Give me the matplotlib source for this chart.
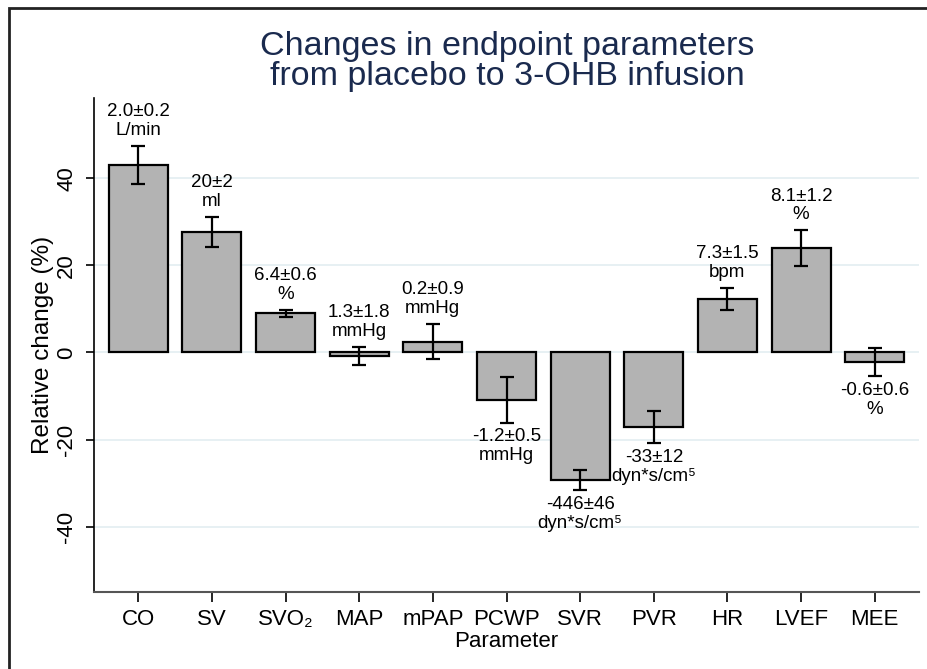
import numpy as np
import matplotlib
matplotlib.use('Agg')
import matplotlib.pyplot as plt
from matplotlib.patches import Rectangle

plt.rcParams['font.family'] = ['Liberation Sans', 'DejaVu Sans']

params = ['CO', 'SV', 'SVO₂', 'MAP', 'mPAP', 'PCWP', 'SVR', 'PVR', 'HR', 'LVEF', 'MEE']
change = [43.0, 27.7, 9.0, -0.8, 2.5, -10.9, -29.3, -17.2, 12.2, 23.9, -2.2]
err = [4.3, 3.4, 0.8, 2.1, 4.1, 5.2, 2.4, 3.7, 2.5, 4.1, 3.3]
labels = ['2.0±0.2\nL/min', '20±2\nml', '6.4±0.6\n%', '1.3±1.8\nmmHg', '0.2±0.9\nmmHg',
          '-1.2±0.5\nmmHg', '-446±46\ndyn*s/cm⁵', '-33±12\ndyn*s/cm⁵',
          '7.3±1.5\nbpm', '8.1±1.2\n%', '-0.6±0.6\n%']
# labels of the small bars sit above, whatever the sign
label_up = [True, True, True, True, True, False, False, False, True, True, False]

x = np.arange(1, len(params) + 1)

fig = plt.figure(figsize=(9.27, 6.69), dpi=100)
ax = fig.add_axes([94 / 927, 77 / 669, 825 / 927, 494 / 669])

for y in [-40, -20, 0, 20, 40]:
    ax.axhline(y, color='#e3edf1', lw=1.2, zorder=0)

ax.bar(x, change, width=0.8, color='#b3b3b3', edgecolor='black', linewidth=1.6, zorder=2)
ax.errorbar(x, change, yerr=err, fmt='none', ecolor='black', elinewidth=1.6,
            capsize=5, capthick=1.6, zorder=3)

for xi, v, e, lab, up in zip(x, change, err, labels, label_up):
    if up:
        ax.annotate(lab, (xi, v + e), xytext=(0, 5), textcoords='offset points',
                    ha='center', va='bottom', fontsize=13.5, linespacing=1.15,
                    annotation_clip=False)
    else:
        ax.annotate(lab, (xi, v - e), xytext=(0, -4), textcoords='offset points',
                    ha='center', va='top', fontsize=13.5, linespacing=1.15,
                    annotation_clip=False)

ax.set_xlim(0.4, 11.6)
ax.set_ylim(-55, 58.4)
ax.set_xticks(x)
ax.set_xticklabels(params, fontsize=16)
ax.set_yticks([-40, -20, 0, 20, 40])
ax.set_yticklabels(['-40', '-20', '0', '20', '40'], fontsize=16, rotation=90, va='center')
ax.tick_params(axis='x', length=7, width=1.2, pad=5)
ax.tick_params(axis='y', length=6, width=1.2, pad=6)
ax.set_xlabel('Parameter', fontsize=16, labelpad=1)
ax.set_ylabel('Relative change (%)', fontsize=17.5, labelpad=2)

ax.spines['top'].set_visible(False)
ax.spines['right'].set_visible(False)
ax.spines['left'].set_color('black')
ax.spines['left'].set_linewidth(1.2)
ax.spines['bottom'].set_color('#555555')
ax.spines['bottom'].set_linewidth(1.5)

fig.text(0.547, 0.953, 'Changes in endpoint parameters\nfrom placebo to 3-OHB infusion',
         ha='center', va='top', fontsize=24.5, color='#1a2a4e', linespacing=0.95)

fig.patches.append(Rectangle((9 / 927, -0.1), 1.2, 1.1 - 8 / 669, transform=fig.transFigure,
                             fill=False, edgecolor='#222222', linewidth=2))

fig.savefig('out.png', dpi=100)
